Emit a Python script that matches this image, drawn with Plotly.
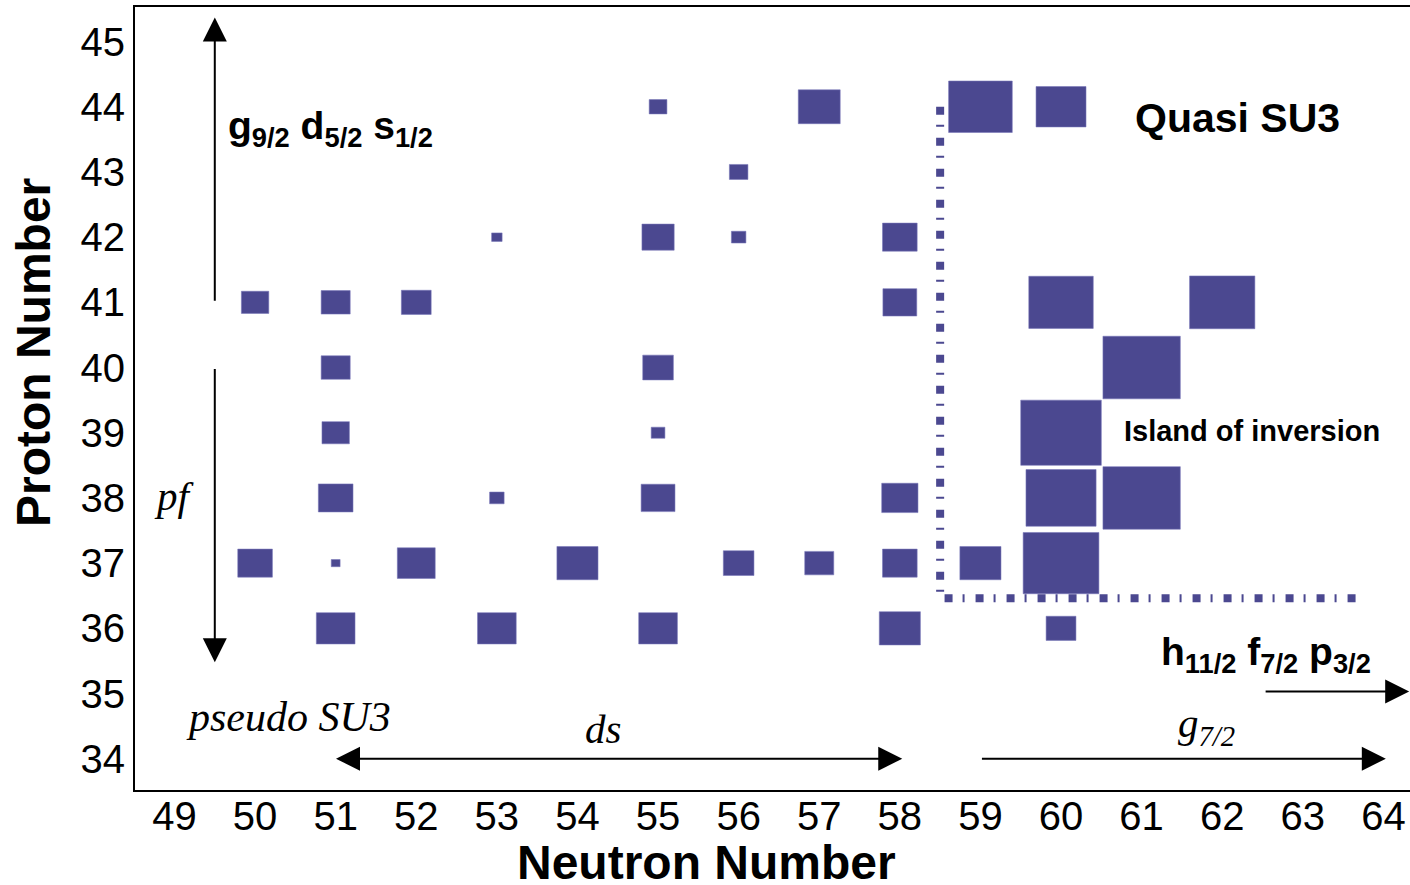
import plotly.graph_objects as go

# ---- data ----
neutrons = [55, 57, 59, 60,
            56,
            53, 55, 56, 58,
            50, 51, 52, 58, 60, 62,
            51, 55, 61,
            51, 55, 60,
            51, 53, 55, 58, 60, 61,
            50, 51, 52, 54, 56, 57, 58, 59, 60,
            51, 53, 55, 58, 60]
protons = [44, 44, 44, 44,
           43,
           42, 42, 42, 42,
           41, 41, 41, 41, 41, 41,
           40, 40, 40,
           39, 39, 39,
           38, 38, 38, 38, 38, 38,
           37, 37, 37, 37, 37, 37, 37, 37, 37,
           36, 36, 36, 36, 36]
box_size = [0.22, 0.52, 0.79, 0.62,
            0.23,
            0.13, 0.40, 0.18, 0.43,
            0.34, 0.36, 0.37, 0.42, 0.80, 0.81,
            0.36, 0.38, 0.96,
            0.34, 0.17, 1.00,
            0.43, 0.18, 0.42, 0.45, 0.87, 0.96,
            0.43, 0.11, 0.47, 0.51, 0.38, 0.36, 0.43, 0.51, 0.94,
            0.48, 0.48, 0.48, 0.51, 0.37]

boundary_N = [58.5, 58.5, 63.72]
boundary_Z = [44.0, 36.46, 36.46]

x_ticks = list(range(49, 65))
y_ticks = list(range(34, 46))

BOX = "#4B4890"
SANS = "Liberation Sans, Arial, sans-serif"
SERIF = "Liberation Serif, Times New Roman, serif"

# ---- build squares (sizes in axis units) ----
px, py = [], []
for n, z, s in zip(neutrons, protons, box_size):
    h = s / 2.0
    px += [n - h, n + h, n + h, n - h, n - h, None]
    py += [z - h, z - h, z + h, z + h, z - h, None]

fig = go.Figure()
fig.add_trace(go.Scatter(x=px, y=py, mode="lines", fill="toself",
                         fillcolor=BOX, line=dict(color="rgba(120,118,185,0.7)", width=0.8),
                         hoverinfo="skip", showlegend=False))

fig.add_trace(go.Scatter(x=boundary_N, y=boundary_Z, mode="lines",
                         line=dict(color=BOX, width=8, dash="8px,10px,2px,11px"),
                         hoverinfo="skip", showlegend=False))

ann = []
def arrow(x, y, ax, ay, both=False):
    d = dict(x=x, y=y, ax=ax, ay=ay, xref="x", yref="y", axref="x", ayref="y",
             text="", showarrow=True, arrowhead=2, arrowsize=2.4, arrowwidth=2,
             arrowcolor="black", standoff=0, startstandoff=0)
    if both:
        d.update(arrowside="end+start", startarrowhead=2, startarrowsize=2.4)
    ann.append(d)

arrow(49.5, 45.37, 49.5, 41.0)
arrow(49.5, 35.48, 49.5, 40.0)
arrow(58.03, 34.0, 50.985, 34.0, both=True)
arrow(64.03, 34.0, 59.0, 34.0)
arrow(64.32, 35.03, 62.52, 35.03)

def text(x, y, t, size, family=SANS, xanchor="center"):
    ann.append(dict(x=x, y=y, xref="x", yref="y", text=t, showarrow=False,
                    xanchor=xanchor, yanchor="middle",
                    font=dict(family=family, size=size, color="black")))

text(49.64, 43.66, "<b>g<sub>9/2</sub> d<sub>5/2</sub> s<sub>1/2</sub></b>", 39, xanchor="left")
text(62.195, 43.83, "<b>Quasi SU3</b>", 41)
text(62.375, 39.03, "<b>Island of inversion</b>", 29)
text(61.22, 35.6, "<b>h<sub>11/2</sub> f<sub>7/2</sub> p<sub>3/2</sub></b>", 39, xanchor="left")
text(49.0, 38.03, "<i>pf</i>", 41, family=SERIF)
text(50.41, 34.64, "<i>pseudo SU3</i>", 42, family=SERIF)
text(54.32, 34.45, "<i>ds</i>", 41, family=SERIF)
text(61.81, 34.5, "<i>g<sub>7/2</sub></i>", 41, family=SERIF)

ann.append(dict(x=0.4486, y=-0.092, xref="paper", yref="paper", text="<b>Neutron Number</b>",
                showarrow=False, xanchor="center", yanchor="middle",
                font=dict(family=SANS, size=48, color="black")))
ann.append(dict(x=-0.0796, y=0.5587, xref="paper", yref="paper", text="<b>Proton Number</b>",
                showarrow=False, xanchor="center", yanchor="middle", textangle=-90,
                font=dict(family=SANS, size=48, color="black")))

fig.update_layout(
    width=1410, height=885,
    margin=dict(l=135, r=0, t=7, b=95),
    paper_bgcolor="white", plot_bgcolor="white",
    annotations=ann,
    showlegend=False,
    xaxis=dict(range=[48.51, 64.33], tickmode="array", tickvals=x_ticks,
               ticktext=[str(v) for v in x_ticks], showgrid=False, zeroline=False,
               showline=True, linecolor="black", linewidth=2, mirror=True, ticks="",
               ticklabelstandoff=-10,
               tickfont=dict(family=SANS, size=40, color="black")),
    yaxis=dict(range=[33.52, 45.53], tickmode="array", tickvals=y_ticks,
               ticktext=[str(v) for v in y_ticks], showgrid=False, zeroline=False,
               showline=True, linecolor="black", linewidth=2, ticks="",
               tickfont=dict(family=SANS, size=40, color="black")),
)

fig.write_html("out.html")
